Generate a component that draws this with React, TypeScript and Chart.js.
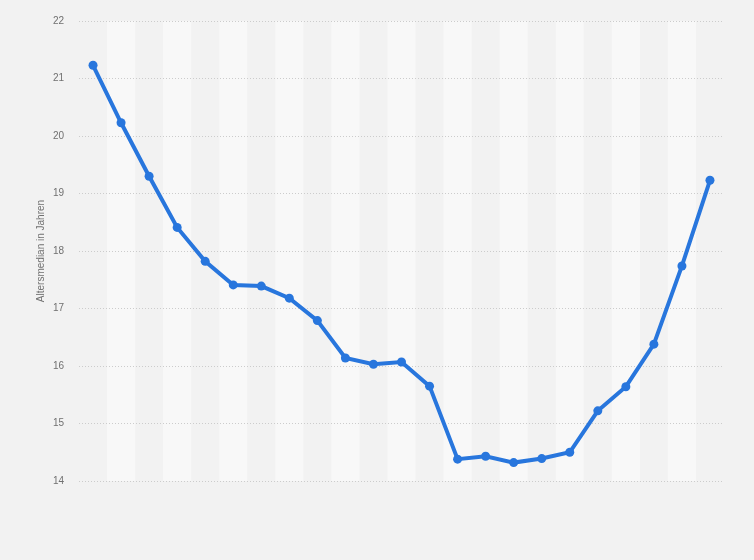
import React, { useEffect, useRef } from "react";
import { Chart, registerables } from "chart.js";

Chart.register(...registerables);

const categories: string[] = [
  "1950", "1955", "1960", "1965", "1970", "1975", "1980", "1985", "1990", "1995", "2000", "2005",
  "2010", "2015", "2020", "2025", "2030", "2035", "2040", "2045", "2050", "2055", "2060",
];
const medianAge: number[] = [
  21.23, 20.23, 19.3, 18.41, 17.82, 17.41, 17.39, 17.18, 16.79, 16.14, 16.03, 16.07,
  15.65, 14.38, 14.43, 14.32, 14.39, 14.5, 15.22, 15.64, 16.38, 17.74, 19.23,
];
const yTicks: number[] = [14, 15, 16, 17, 18, 19, 20, 21, 22];
const yTitle = "Altersmedian in Jahren";

const bandPlugin = {
  id: "bands",
  beforeDraw(chart: any) {
    const { ctx, chartArea, scales } = chart;
    const x = scales.x;
    const n = categories.length;
    const w = (chartArea.right - chartArea.left) / n;
    ctx.save();
    ctx.fillStyle = "#f8f8f8";
    for (let i = 0; i < n; i++) {
      if (i % 2 === 1) {
        const cx = x.getPixelForValue(i);
        ctx.fillRect(cx - w / 2, chartArea.top, w, chartArea.bottom - chartArea.top);
      }
    }
    ctx.restore();
  },
};

export default function App() {
  const ref = useRef<HTMLCanvasElement | null>(null);
  useEffect(() => {
    document.body.style.margin = "0";
    const chart = new Chart(ref.current as HTMLCanvasElement, {
      type: "line",
      data: {
        labels: categories,
        datasets: [
          {
            data: medianAge,
            borderColor: "#2876dd",
            backgroundColor: "#2876dd",
            borderWidth: 4,
            pointRadius: 4.5,
            pointHoverRadius: 4.5,
            pointBorderWidth: 0,
            tension: 0,
          },
        ],
      },
      options: {
        animation: false,
        responsive: false,
        maintainAspectRatio: false,
        layout: { padding: { top: 20, right: 30, bottom: 79, left: 0 } },
        plugins: { legend: { display: false }, tooltip: { enabled: false } },
        scales: {
          x: {
            display: false,
            offset: true,
          },
          y: {
            min: 14,
            max: 22,
            afterBuildTicks: (s: any) => {
              s.ticks = yTicks.map((v) => ({ value: v }));
            },
            afterFit: (s: any) => {
              s.width = 79;
            },
            grid: { color: "#cccccc", drawTicks: false, lineWidth: 1 },
            border: { display: false, dash: [1, 2] },
            ticks: {
              padding: 15,
              color: "#707070",
              font: { family: "'Liberation Sans', Arial, sans-serif", size: 10 },
            },
            title: {
              display: true,
              text: yTitle,
              color: "#707070",
              font: { family: "'Liberation Sans', Arial, sans-serif", size: 10 },
              padding: { top: 35, bottom: 0 },
            },
          },
        },
      },
      plugins: [bandPlugin],
    });
    return () => chart.destroy();
  }, []);
  return (
    <div style={{ width: 754, height: 560, background: "#f2f2f2" }}>
      <canvas ref={ref} width={754} height={560} style={{ display: "block" }} />
    </div>
  );
}
